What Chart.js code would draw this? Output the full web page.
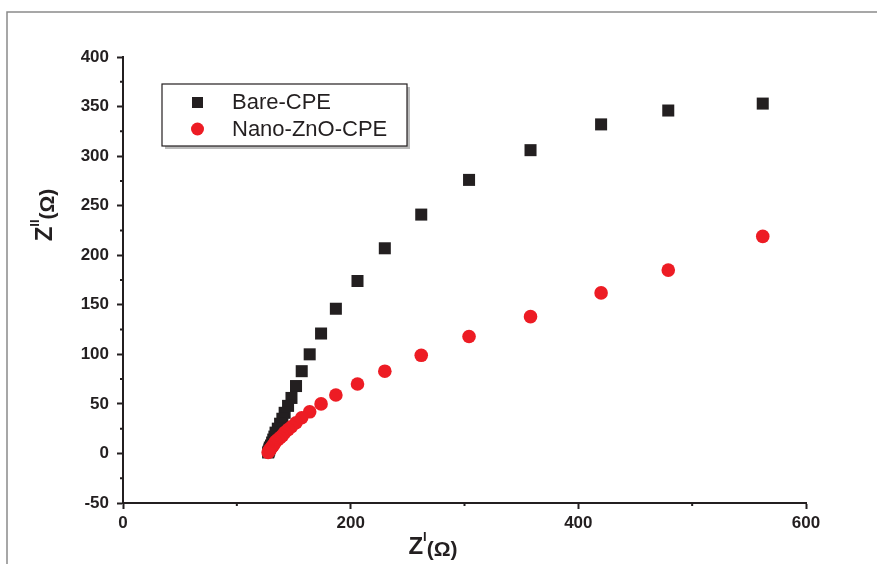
<!DOCTYPE html>
<html>
<head>
<meta charset="utf-8">
<script src="https://cdn.jsdelivr.net/npm/chart.js@4.4.0/dist/chart.umd.min.js"></script>
<style>
  html, body { margin: 0; padding: 0; background: #fff; }
  #wrap { width: 877px; height: 564px; position: relative; }
</style>
</head>
<body>
<div id="wrap"><canvas id="nyquist"></canvas></div>
<script>
// Nyquist plot data
const zReal = [562, 479, 420, 358, 304, 262, 230, 206, 187, 174, 164, 157, 152, 148,
               145, 142, 140, 138, 136, 134, 133, 132, 131, 130, 129, 128.5, 128, 127.5];
const bareImag = [353, 346, 332, 306, 276, 241, 207, 174, 146, 121, 100, 83, 68, 56,
                  48, 41, 35, 30, 25, 21, 17, 14, 11, 8, 6, 4, 2, 1];
const nanoImag = [219, 185, 162, 138, 118, 99, 83, 70, 59, 50, 42, 36, 31, 27,
                  24, 21, 18, 16, 14, 12, 10, 8, 7, 5, 4, 3, 2, 1];
const seriesNames = ['Bare-CPE', 'Nano-ZnO-CPE'];
const xTicksMajor = [0, 200, 400, 600];
const yTicksMajor = [-50, 0, 50, 100, 150, 200, 250, 300, 350, 400];

const INK = '#231f20';
const RED = '#ed1c24';
const FONT = "'Liberation Sans', Arial, sans-serif";

const toPoints = ys => zReal.map((x, i) => ({ x: x, y: ys[i] }));

// white page with the grey frame of the original figure
const framePlugin = {
  id: 'frame',
  beforeDraw(chart) {
    const c = chart.ctx;
    c.save();
    c.fillStyle = '#fff';
    c.fillRect(0, 0, chart.width, chart.height);
    c.strokeStyle = '#8a8a8a';
    c.lineWidth = 1.5;
    c.beginPath();
    c.moveTo(7, chart.height);
    c.lineTo(7, 12);
    c.lineTo(chart.width, 12);
    c.stroke();
    c.restore();
  }
};

// short minor ticks between labelled ones
const minorTicks = {
  id: 'minorTicks',
  afterDraw(chart) {
    const c = chart.ctx, xs = chart.scales.x, ys = chart.scales.y;
    const area = chart.chartArea;
    c.save();
    c.strokeStyle = INK;
    c.lineWidth = 2;
    c.beginPath();
    for (let v = 100; v < 600; v += 200) {
      const px = xs.getPixelForValue(v);
      c.moveTo(px, area.bottom);
      c.lineTo(px, area.bottom + 3);
    }
    for (let v = -25; v < 400; v += 50) {
      const py = ys.getPixelForValue(v);
      c.moveTo(area.left, py);
      c.lineTo(area.left - 3, py);
    }
    c.stroke();
    c.restore();
  }
};

// axis titles Z^I(Ω) and Z^II(Ω)
function drawTitle(c, sup) {
  c.font = 'bold 24px ' + FONT;
  const wZ = c.measureText('Z').width;
  c.font = 'bold 13px ' + FONT;
  const wS = c.measureText(sup).width;
  c.font = 'bold 21px ' + FONT;
  const wO = c.measureText('(\u03a9)').width;
  let x = -(wZ + wS + wO) / 2;
  c.textBaseline = 'alphabetic';
  c.textAlign = 'left';
  c.font = 'bold 24px ' + FONT;
  c.fillText('Z', x, 8);
  x += wZ;
  c.font = 'bold 13px ' + FONT;
  c.fillText(sup, x, -5);
  x += wS;
  c.font = 'bold 21px ' + FONT;
  c.fillText('(\u03a9)', x, 10);
}
const axisTitles = {
  id: 'axisTitles',
  afterDraw(chart) {
    const c = chart.ctx;
    c.save();
    c.fillStyle = INK;
    c.translate(433, 546);
    drawTitle(c, 'I');
    c.restore();
    c.save();
    c.fillStyle = INK;
    c.translate(44, 215);
    c.rotate(-Math.PI / 2);
    drawTitle(c, 'II');
    c.restore();
  }
};

// boxed legend inside the plot
const boxLegend = {
  id: 'boxLegend',
  afterDraw(chart) {
    const c = chart.ctx;
    c.save();
    c.fillStyle = '#bbb';
    c.fillRect(165, 87, 245, 62);
    c.fillStyle = '#fff';
    c.fillRect(162, 84, 245, 62);
    c.strokeStyle = INK;
    c.lineWidth = 1.2;
    c.strokeRect(162, 84, 245, 62);
    c.fillStyle = INK;
    c.fillRect(192, 97, 11, 11);
    c.fillStyle = RED;
    c.beginPath();
    c.arc(197.5, 129, 6.5, 0, Math.PI * 2);
    c.fill();
    c.fillStyle = INK;
    c.font = '22px ' + FONT;
    c.textBaseline = 'middle';
    c.fillText(seriesNames[0], 232, 103);
    c.fillText(seriesNames[1], 232, 130);
    c.restore();
  }
};

new Chart(document.getElementById('nyquist'), {
  type: 'scatter',
  data: {
    datasets: [
      {
        label: seriesNames[0],
        data: toPoints(bareImag),
        pointStyle: 'rect',
        pointRadius: 8.5,
        pointHoverRadius: 8.5,
        backgroundColor: INK,
        borderWidth: 0,
        order: 2
      },
      {
        label: seriesNames[1],
        data: toPoints(nanoImag),
        pointStyle: 'circle',
        pointRadius: 6.8,
        pointHoverRadius: 6.8,
        backgroundColor: RED,
        borderWidth: 0,
        order: 1
      }
    ]
  },
  options: {
    responsive: true,
    maintainAspectRatio: false,
    animation: false,
    layout: { padding: { left: 0, top: 57, right: 71, bottom: 0 } },
    plugins: {
      legend: { display: false },
      tooltip: { enabled: false }
    },
    scales: {
      x: {
        type: 'linear',
        min: 0,
        max: 600,
        afterFit: s => { s.height = 61; },
        border: { display: true, color: INK, width: 2 },
        grid: {
          drawOnChartArea: false,
          tickLength: 6,
          tickWidth: 2,
          tickColor: ctx => (xTicksMajor.includes(ctx.tick.value) ? INK : 'rgba(0,0,0,0)')
        },
        ticks: {
          stepSize: 100,
          padding: 4,
          color: INK,
          font: { family: FONT, size: 17, weight: 'bold' },
          maxRotation: 0,
          autoSkip: false,
          callback: v => (xTicksMajor.includes(v) ? v : '')
        }
      },
      y: {
        type: 'linear',
        min: -50,
        max: 400,
        afterFit: s => { s.width = 123; },
        border: { display: true, color: INK, width: 2 },
        grid: {
          drawOnChartArea: false,
          tickLength: 6,
          tickWidth: 2,
          tickColor: ctx => (yTicksMajor.includes(ctx.tick.value) ? INK : 'rgba(0,0,0,0)')
        },
        ticks: {
          stepSize: 25,
          padding: 8,
          color: INK,
          font: { family: FONT, size: 17, weight: 'bold' },
          autoSkip: false,
          callback: v => (yTicksMajor.includes(v) ? v : '')
        }
      }
    }
  },
  plugins: [framePlugin, minorTicks, axisTitles, boxLegend]
});
</script>
</body>
</html>
